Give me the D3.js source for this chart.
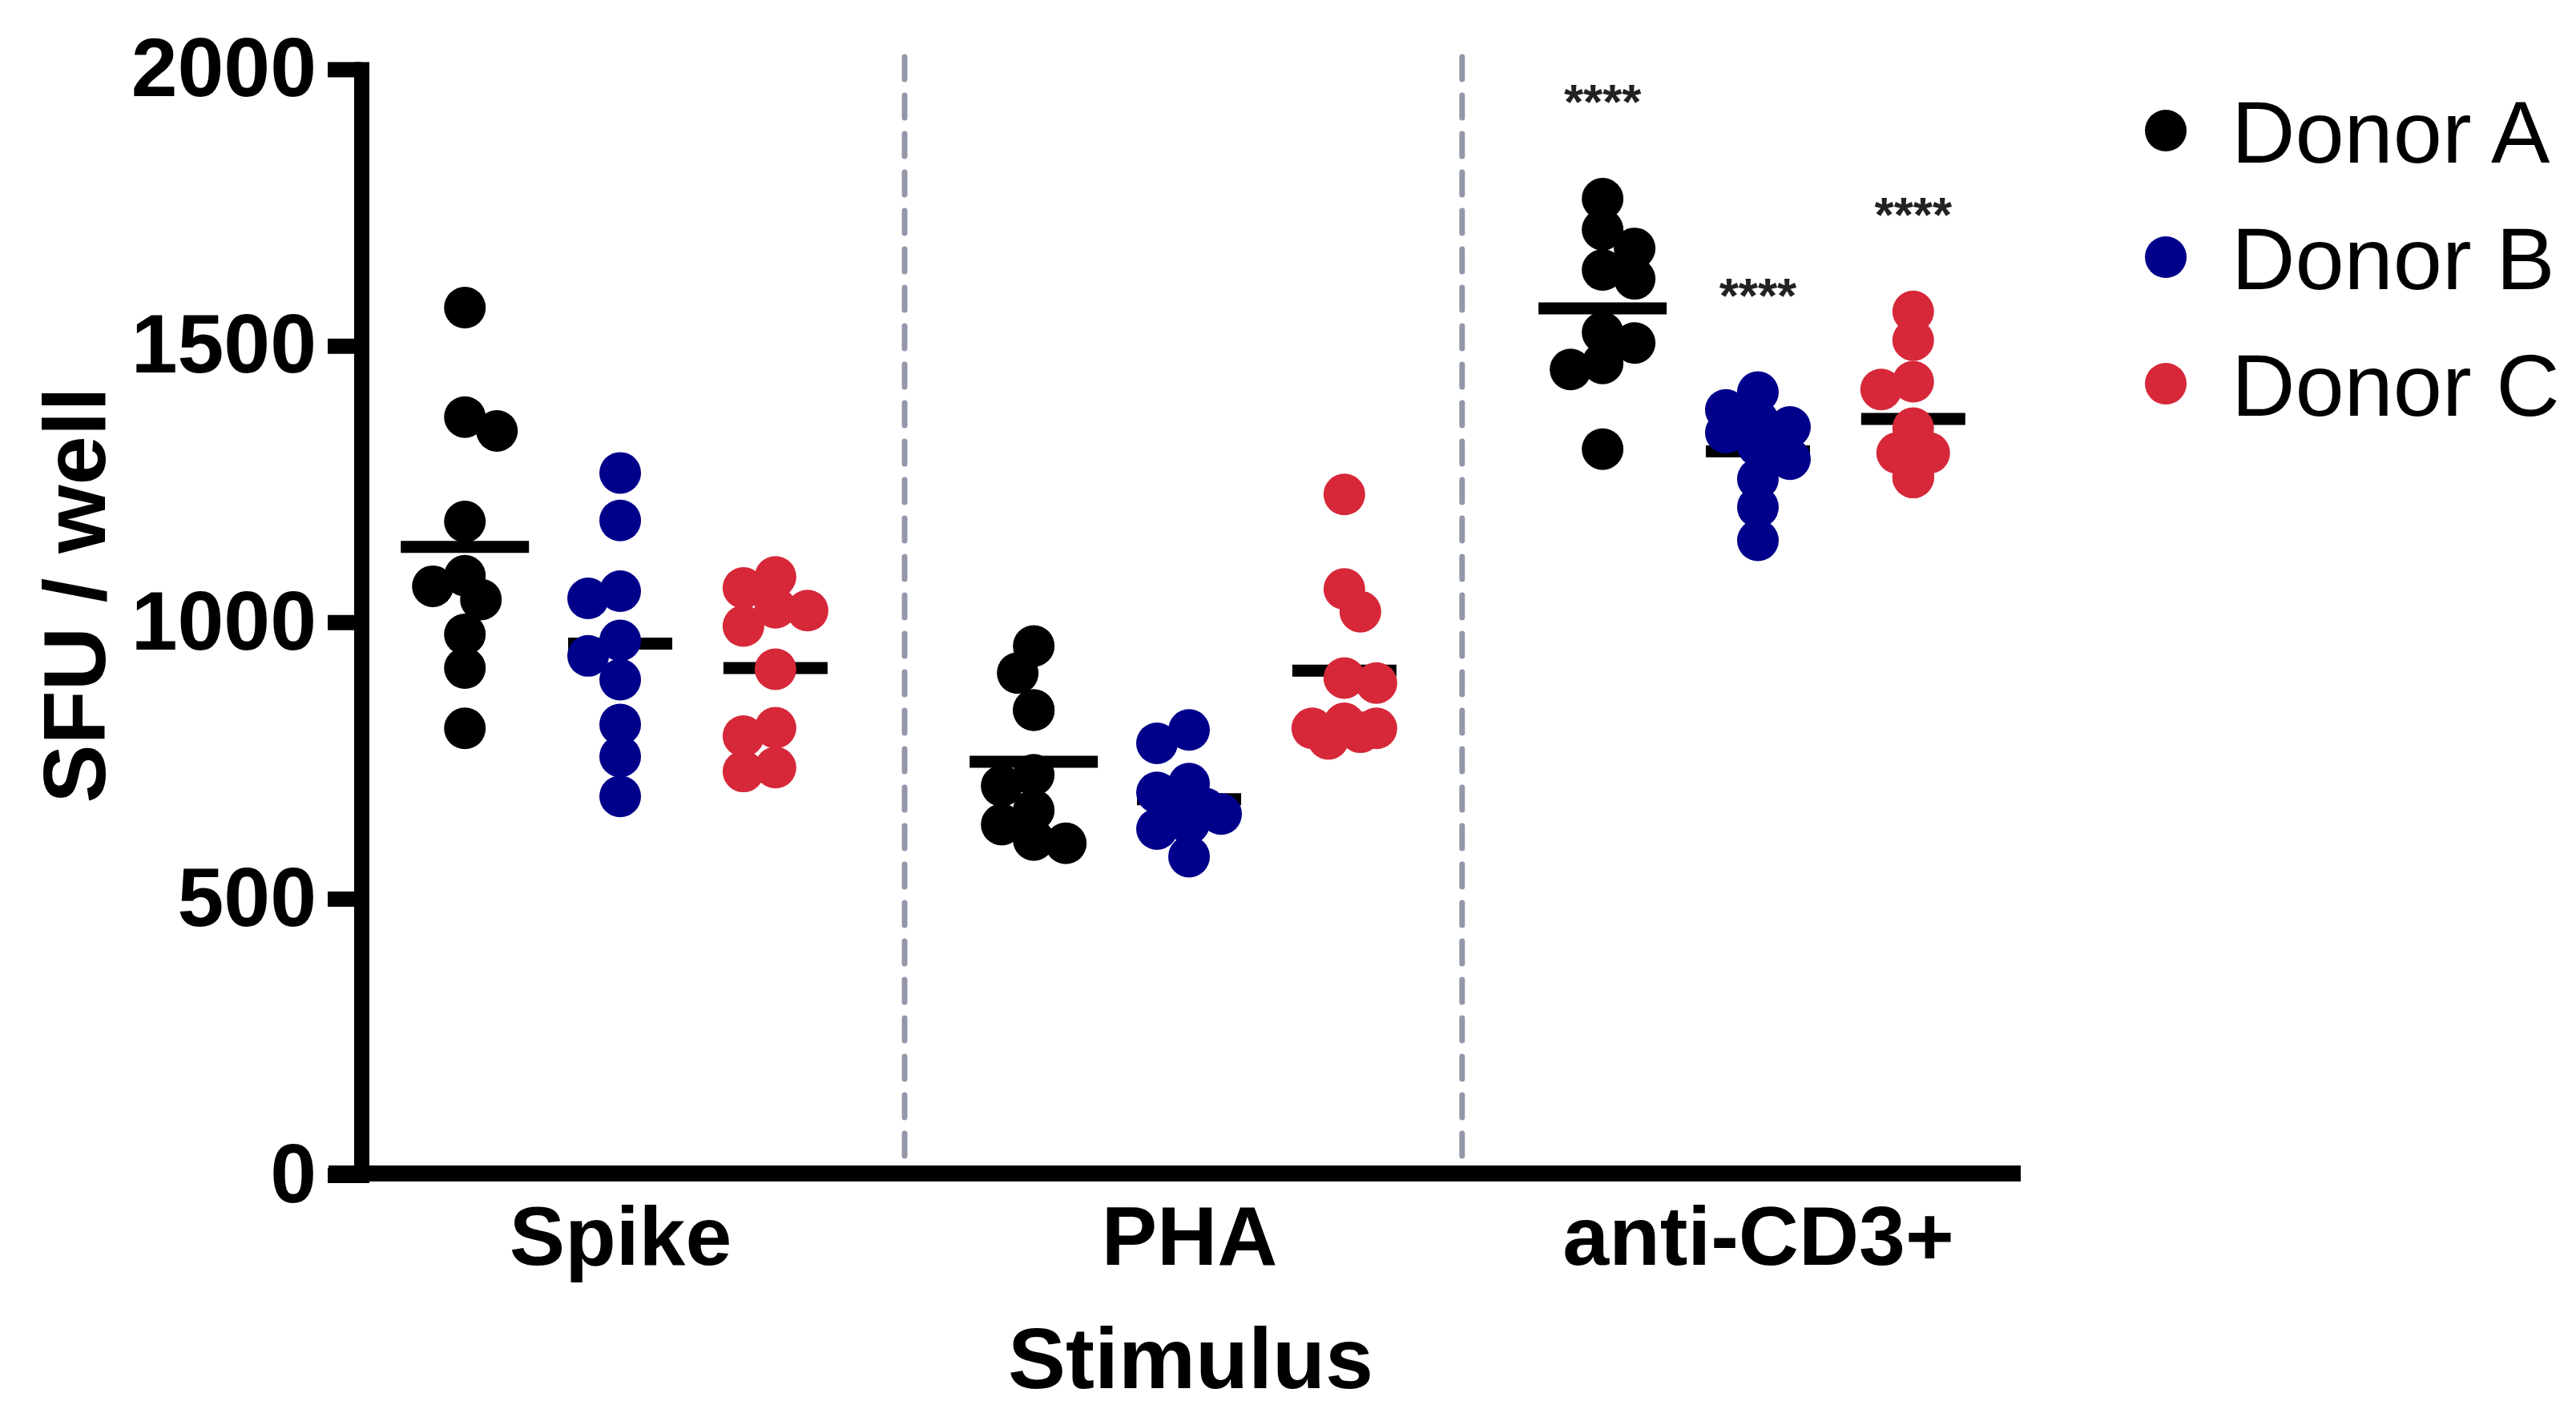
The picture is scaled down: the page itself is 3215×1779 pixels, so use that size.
<!DOCTYPE html>
<html>
  <head>
      <meta charset="utf-8">
      <script src="https://cdn.jsdelivr.net/npm/d3@7"></script>
      <style>
        body { margin: 0; background: #fff; }
        text { font-family: "Liberation Sans", Arial, Helvetica, sans-serif; }
      </style>
  </head>
  <body>
      <svg width="3215" height="1779"></svg>
      <script>
      // categories
      var stimuli = ["Spike", "PHA", "anti-CD3+"]
      var donors = ["Donor A", "Donor B", "Donor C"]
      var yTicks = [0, 500, 1000, 1500, 2000]

      // SFU / well, one array per stimulus and donor
      var spikeA = [1569, 1371, 1346, 1182, 1084, 1065, 1041, 978, 917, 808]
      var spikeB = [1270, 1184, 1056, 1043, 967, 939, 896, 815, 757, 685]
      var spikeC = [1082, 1062, 1026, 1021, 993, 915, 809, 794, 737, 730]
      var phaA = [957, 908, 841, 841, 724, 704, 660, 634, 606, 600]
      var phaB = [805, 781, 708, 692, 663, 660, 653, 636, 626, 576]
      var phaC = [1231, 1060, 1019, 899, 890, 817, 808, 808, 801, 789]
      var cd3A = [1766, 1710, 1676, 1637, 1621, 1524, 1505, 1468, 1457, 1313]
      var cd3B = [1416, 1384, 1365, 1353, 1343, 1319, 1295, 1259, 1208, 1148]
      var cd3C = [1562, 1510, 1435, 1421, 1351, 1306, 1306, 1262, 1262, 1262]

      // significance marks over each donor (Spike, PHA, anti-CD3+)
      var sigSpike = ["", "", ""]
      var sigPHA = ["", "", ""]
      var sigCD3 = ["****", "****", "****"]

      // dividers between stimuli, in stimulus index units
      var dividers = [0.5, 1.48]

      var groups = [
        {s: 0, d: 0, values: spikeA, sig: sigSpike[0]},
        {s: 0, d: 1, values: spikeB, sig: sigSpike[1]},
        {s: 0, d: 2, values: spikeC, sig: sigSpike[2]},
        {s: 1, d: 0, values: phaA, sig: sigPHA[0]},
        {s: 1, d: 1, values: phaB, sig: sigPHA[1]},
        {s: 1, d: 2, values: phaC, sig: sigPHA[2]},
        {s: 2, d: 0, values: cd3A, sig: sigCD3[0]},
        {s: 2, d: 1, values: cd3B, sig: sigCD3[1]},
        {s: 2, d: 2, values: cd3C, sig: sigCD3[2]}
      ]

      var colors = ["#000000", "#00008B", "#D62839"]
      var meanHalf = [80, 65, 65]
      var donorOffset = 0.273
      var R = 26

      var svg = d3.select('svg')

      var x = d3.scaleLinear().domain([-0.455, 2.455]).range([451, 2517])
      var y = d3.scaleLinear().domain([0, 2000]).range([1467, 86.5])

      // dashed dividers
      svg.selectAll('line.div')
        .data(dividers)
        .enter()
        .append('line')
          .attr('class', 'div')
          .attr('x1', function(d){ return x(d) })
          .attr('x2', function(d){ return x(d) })
          .attr('y1', 71)
          .attr('y2', 1456)
          .attr('stroke', '#9497aa')
          .attr('stroke-width', 7)
          .attr('stroke-linecap', 'round')
          .attr('stroke-dasharray', '28 20')

      // compact swarm: spread sideways at most 2 steps, overlap if needed
      function swarm(vals){
        var step = 20, minDist = 34
        var placed = []
        vals.slice().sort(function(a,b){ return b-a }).forEach(function(v, i){
          var py = y(v)
          var cands = i % 2 ? [0, -step, step, -2*step, 2*step] : [0, step, -step, 2*step, -2*step]
          var nearest = function(c){
            return d3.min(placed, function(p){ return Math.hypot(p.dx - c, p.py - py) }) || Infinity
          }
          var off = cands.find(function(c){ return nearest(c) >= minDist })
          if (off === undefined) off = cands[d3.maxIndex(cands, nearest)]
          placed.push({v: v, py: py, dx: off})
        })
        return placed
      }

      var g = svg.selectAll('g.grp')
        .data(groups)
        .enter()
        .append('g')
          .attr('class', 'grp')

      // mean lines
      g.append('line')
        .attr('x1', function(d){ return x(d.s + (d.d-1)*donorOffset) - meanHalf[d.d] })
        .attr('x2', function(d){ return x(d.s + (d.d-1)*donorOffset) + meanHalf[d.d] })
        .attr('y1', function(d){ return y(d3.mean(d.values)) })
        .attr('y2', function(d){ return y(d3.mean(d.values)) })
        .attr('stroke', '#000')
        .attr('stroke-width', 15)

      // points
      g.each(function(d){
        var cx = x(d.s + (d.d-1)*donorOffset)
        d3.select(this).selectAll('circle')
          .data(swarm(d.values))
          .enter()
          .append('circle')
            .attr('cx', function(p){ return cx + p.dx })
            .attr('cy', function(p){ return p.py })
            .attr('r', R)
            .attr('fill', colors[d.d])
      })

      // significance
      g.filter(function(d){ return d.sig })
        .append('text')
          .attr('x', function(d){ return x(d.s + (d.d-1)*donorOffset) })
          .attr('y', function(d){ return y(d3.max(d.values)) - 100 })
          .attr('text-anchor', 'middle')
          .attr('font-size', 62)
          .attr('font-weight', 'bold')
          .attr('fill', '#222')
          .text(function(d){ return d.sig })

      // y axis
      var yAxis = svg.append('g')
        .attr('transform', 'translate(451,0)')
        .call(d3.axisLeft(y).tickValues(yTicks).tickFormat(d3.format('d')).tickSize(42).tickSizeOuter(0).tickPadding(14))
      yAxis.select('.domain')
        .attr('stroke-width', 19)
        .attr('stroke-linecap', 'square')
        .attr('stroke', '#000')
      yAxis.selectAll('.tick line')
        .attr('stroke-width', 19)
        .attr('stroke', '#000')
      yAxis.selectAll('.tick text')
        .attr('font-size', 104)
        .attr('font-weight', 'bold')
        .attr('fill', '#000')
        .style('font-family', '"Liberation Sans", Arial, sans-serif')

      // x axis
      var xAxis = svg.append('g')
        .attr('transform', 'translate(0,1465)')
        .call(d3.axisBottom(x).tickValues([0, 1, 2]).tickFormat(function(i){ return stimuli[i] }).tickSize(0).tickPadding(40))
      xAxis.select('.domain').remove()
      xAxis.append('line')
        .attr('x1', 410)
        .attr('x2', 2522)
        .attr('stroke', '#000')
        .attr('stroke-width', 20)
      xAxis.selectAll('.tick text')
        .attr('font-size', 104)
        .attr('font-weight', 'bold')
        .attr('fill', '#000')
        .style('font-family', '"Liberation Sans", Arial, sans-serif')

      // axis titles
      svg.append('text')
        .attr('transform', 'translate(131,743) rotate(-90)')
        .attr('text-anchor', 'middle')
        .attr('font-size', 110)
        .attr('font-weight', 'bold')
        .text('SFU / well')

      svg.append('text')
        .attr('x', 1486)
        .attr('y', 1733)
        .attr('text-anchor', 'middle')
        .attr('font-size', 108)
        .attr('font-weight', 'bold')
        .text('Stimulus')

      // legend
      var leg = svg.selectAll('g.leg')
        .data(donors)
        .enter()
        .append('g')
          .attr('class', 'leg')
          .attr('transform', function(d,i){ return 'translate(2703,' + (163 + i*158) + ')' })
      leg.append('circle')
        .attr('r', R)
        .attr('fill', function(d,i){ return colors[i] })
      leg.append('text')
        .attr('x', 82)
        .attr('y', 40)
        .attr('font-size', 110)
        .text(function(d){ return d })
      </script>
  </body>
</html>
